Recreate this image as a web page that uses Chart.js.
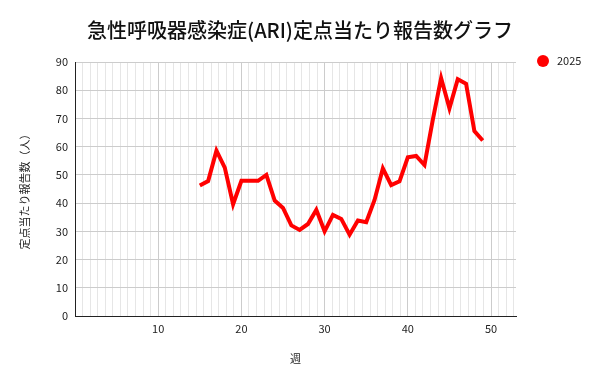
<!DOCTYPE html>
<html>
<head>
<meta charset="utf-8">
<script src="https://cdn.jsdelivr.net/npm/chart.js@4/dist/chart.umd.min.js"></script>
<style>
html,body{margin:0;padding:0;background:#fff;}
canvas{display:block;}
</style>
</head>
<body>
<canvas id="c" width="600" height="384"></canvas>
<script>
const chartTitle = '急性呼吸器感染症(ARI)定点当たり報告数グラフ';
const seriesName = '2025';
const weeks = [15,16,17,18,19,20,21,22,23,24,25,26,27,28,29,30,31,32,33,34,35,36,37,38,39,40,41,42,43,44,45,46,47,48,49];
const values = [46.2,47.8,58.6,52.6,39.6,47.9,47.9,47.9,50.0,40.9,38.3,32.1,30.5,32.6,37.6,30.0,35.8,34.4,28.8,33.8,33.2,41.1,52.3,46.4,47.7,56.2,56.7,53.5,69.5,84.3,73.6,83.9,82.3,65.5,62.2];
const xMajorTicks = [10,20,30,40,50];
const yTicks = [0,10,20,30,40,50,60,70,80,90];
const xTitle = '週';
const yTitle = '定点当たり報告数（人）';
const FONT = "'Noto Sans CJK JP', 'Noto Sans', sans-serif";
const RED = '#ff0000';

const legendPlugin = {
  id: 'sideLegend',
  afterDraw(chart) {
    const ctx = chart.ctx;
    const ca = chart.chartArea;
    ctx.save();
    ctx.fillStyle = RED;
    ctx.beginPath();
    ctx.arc(ca.right + 27, ca.top - 1, 6, 0, Math.PI * 2);
    ctx.fill();
    ctx.fillStyle = '#222';
    ctx.font = "11px " + FONT;
    ctx.textBaseline = 'middle';
    ctx.textAlign = 'left';
    ctx.fillText(seriesName, ca.right + 41, ca.top - 1);
    ctx.restore();
  }
};

new Chart(document.getElementById('c'), {
  type: 'line',
  data: {
    datasets: [{
      label: seriesName,
      data: weeks.map((w, i) => ({x: w, y: values[i]})),
      borderColor: RED,
      backgroundColor: RED,
      borderWidth: 4,
      pointRadius: 0,
      tension: 0,
      fill: false
    }]
  },
  options: {
    responsive: false,
    animation: false,
    devicePixelRatio: 1,
    layout: { padding: { left: 0, right: 0, top: 0, bottom: 0 } },
    plugins: {
      legend: { display: false },
      tooltip: { enabled: false },
      title: {
        display: true,
        text: chartTitle,
        color: '#111',
        font: { family: FONT, size: 20, weight: '500' },
        padding: { top: 18, bottom: 20 }
      }
    },
    scales: {
      xm: {
        type: 'linear',
        position: 'bottom',
        min: 0, max: 53,
        afterBuildTicks(scale) {
          const t = [];
          for (let k = 1; k <= 58; k++) { if (k % 11 !== 0) t.push({value: k * 10 / 11}); }
          scale.ticks = t;
        },
        afterFit(scale) { scale.height = 0; },
        ticks: { display: false },
        grid: { color: '#e6e6e6', lineWidth: 1, drawTicks: false },
        border: { display: false }
      },
      x: {
        type: 'linear',
        position: 'bottom',
        min: 0, max: 53,
        afterBuildTicks(scale) { scale.ticks = xMajorTicks.map(v => ({value: v})); },
        afterFit(scale) { scale.height = 68; },
        ticks: { color: '#222', font: { family: FONT, size: 11 }, padding: 6, maxRotation: 0 },
        grid: { color: '#cccccc', lineWidth: 1, drawTicks: false },
        border: { color: '#222', width: 1 },
        title: { display: true, text: xTitle, color: '#222', font: { family: FONT, size: 11 }, padding: { top: 4, bottom: 19 } }
      },
      y: {
        type: 'linear',
        min: 0, max: 90,
        afterBuildTicks(scale) { scale.ticks = yTicks.map(v => ({value: v})); },
        afterFit(scale) { scale.width = 75; },
        ticks: { color: '#222', font: { family: FONT, size: 11 }, padding: 7 },
        grid: { color: '#cccccc', lineWidth: 1, drawTicks: false },
        border: { color: '#222', width: 1 },
        title: { display: true, text: yTitle, color: '#222', font: { family: FONT, size: 11 }, padding: { top: 18, bottom: 4 } }
      },
      yr: {
        type: 'linear',
        position: 'right',
        min: 0, max: 90,
        afterFit(scale) { scale.width = 84; },
        ticks: { display: false },
        grid: { display: false, drawTicks: false },
        border: { display: false }
      }
    }
  },
  plugins: [legendPlugin]
});
</script>
</body>
</html>
